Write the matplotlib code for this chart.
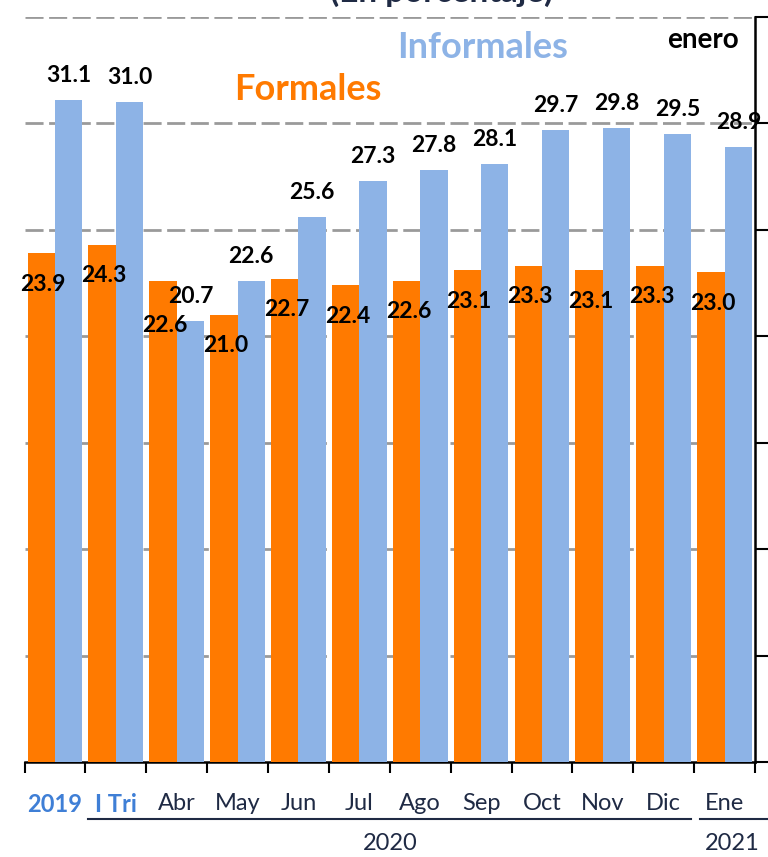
import numpy as np
import matplotlib.pyplot as plt

plt.rcParams['font.family'] = ['Lato', 'DejaVu Sans']

# data
categories = ["2019", "I Tri", "Abr", "May", "Jun", "Jul", "Ago", "Sep", "Oct", "Nov", "Dic", "Ene"]
formales = [23.9, 24.3, 22.6, 21.0, 22.7, 22.4, 22.6, 23.1, 23.3, 23.1, 23.3, 23.0]
informales = [31.1, 31.0, 20.7, 22.6, 25.6, 27.3, 27.8, 28.1, 29.7, 29.8, 29.5, 28.9]
years = ["2020", "2021"]

orange = "#ff7a00"
blue = "#8db3e6"
navy = "#1f2a44"
hi_blue = "#3f7fd6"

fig = plt.figure(figsize=(7.68, 8.57), dpi=100)
ax = fig.add_axes([24.5 / 768, 1 - 762 / 857, (755 - 24.5) / 768, (762 - 17) / 857])

x = np.arange(len(categories))
w = 0.45
ax.bar(x - w / 2, formales, width=w, color=orange, zorder=3)
ax.bar(x + w / 2, informales, width=w, color=blue, zorder=3)

# value labels
for i in range(len(categories)):
    ax.text(x[i] + w / 2, informales[i] + 1.15, f"{informales[i]:.1f}", ha="center", va="center",
            fontsize=16.5, fontweight="bold", color="black", zorder=5)
    off = 2.1 if categories[i] == "Abr" else 1.45
    ax.text(x[i] - w / 2 + 0.03, formales[i] - off, f"{formales[i]:.1f}", ha="center", va="center",
            fontsize=16.5, fontweight="bold", color="black", zorder=5)

ax.set_xlim(-0.5, len(categories) - 0.5)
ax.set_ylim(0, 35)

# grid
for yv in range(5, 36, 5):
    ax.axhline(yv, color="#9a9a9a", lw=2, ls=(0, (6.5, 2)), zorder=1)

# spines
for s in ["left", "top"]:
    ax.spines[s].set_visible(False)
ax.spines["right"].set_linewidth(1.8)
ax.spines["bottom"].set_linewidth(1.8)
ax.yaxis.tick_right()
ax.set_yticks(range(0, 36, 5))
ax.tick_params(axis="y", direction="out", length=9, width=1.5, labelright=False)

ax.set_xticks(x)
ax.set_xticklabels(categories, fontsize=17, color=navy)
ax.set_xticks(np.arange(-0.5, len(categories), 1), minor=True)
ax.tick_params(axis="x", which="major", length=0, pad=22)
ax.tick_params(axis="x", which="minor", length=8, width=1.5, direction="out")
for lbl in ax.get_xticklabels()[:2]:
    lbl.set_color(hi_blue)
    lbl.set_fontweight("bold")

# year brackets
ax.plot([0.55, 10.45], [-0.076, -0.076], color=navy, lw=1.5, clip_on=False,
        transform=ax.get_xaxis_transform())
ax.plot([10.6, 11.75], [-0.076, -0.076], color=navy, lw=1.5, clip_on=False,
        transform=ax.get_xaxis_transform())
ax.text(5.5, -0.109, years[0], ha="center", va="center", fontsize=17, color=navy,
        transform=ax.get_xaxis_transform())
ax.text(11.13, -0.109, years[1], ha="center", va="center", fontsize=17, color=navy,
        transform=ax.get_xaxis_transform())

# series names
fig.text(483 / 768, 1 - 48 / 857, "Informales", ha="center", va="center", fontsize=26,
         fontweight="bold", color=blue)
fig.text(308 / 768, 1 - 90 / 857, "Formales", ha="center", va="center", fontsize=26,
         fontweight="bold", color=orange)
fig.text(703 / 768, 1 - 40 / 857, "enero", ha="center", va="center", fontsize=20,
         fontweight="bold", color="black")

# title, cut off at the top of the picture
fig.text(442 / 768, 1 - 2 / 857, "(En porcentaje)", ha="center", va="baseline", fontsize=24,
         fontweight="bold", color=navy)

fig.savefig("out.png", dpi=100)
